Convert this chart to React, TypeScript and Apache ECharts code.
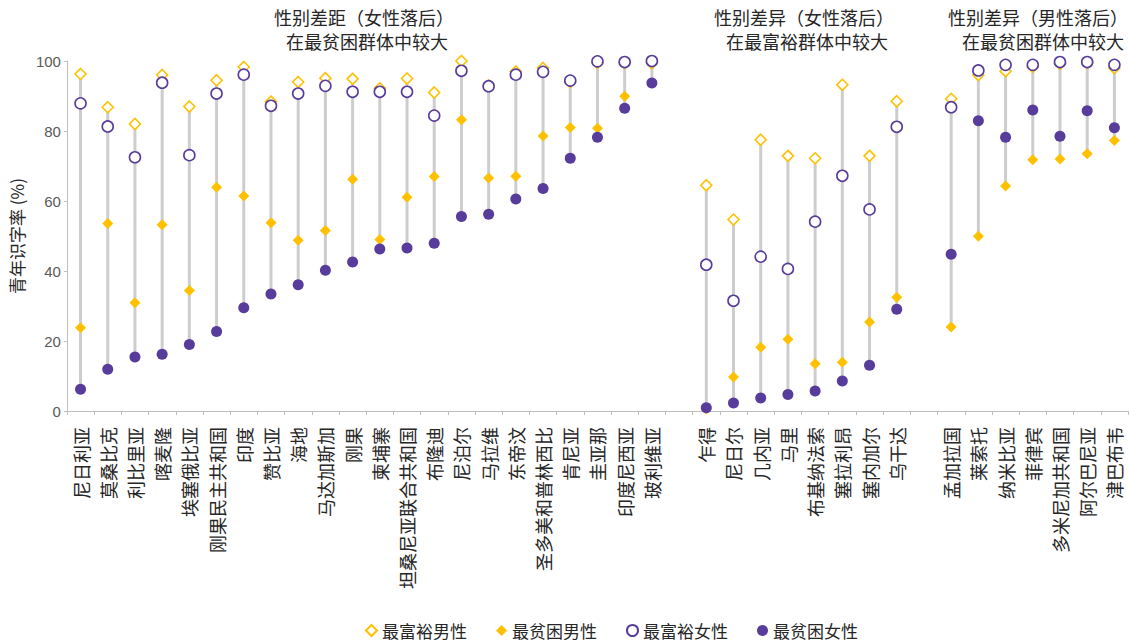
import React, { useEffect, useRef } from "react";
import * as echarts from "echarts";

// ---- Data ----
const group1 = ["尼日利亚", "莫桑比克", "利比里亚", "喀麦隆", "埃塞俄比亚", "刚果民主共和国", "印度", "赞比亚", "海地", "马达加斯加", "刚果", "柬埔寨", "坦桑尼亚联合共和国", "布隆迪", "尼泊尔", "马拉维", "东帝汶", "圣多美和普林西比", "肯尼亚", "圭亚那", "印度尼西亚", "玻利维亚"];
const group2 = ["乍得", "尼日尔", "几内亚", "马里", "布基纳法索", "塞拉利昂", "塞内加尔", "乌干达"];
const group3 = ["孟加拉国", "莱索托", "纳米比亚", "菲律宾", "多米尼加共和国", "阿尔巴尼亚", "津巴布韦"];

// 最富裕男性
const richMale1 = [96.3, 86.8, 82.0, 96.0, 87.0, 94.5, 98.3, 88.4, 94.0, 95.1, 94.9, 92.2, 95.0, 91.0, 100, 93.0, 97.0, 98.0, 94.0, 99.5, 99.5, 99.6];
const richMale2 = [64.5, 54.7, 77.5, 72.9, 72.2, 93.2, 72.9, 88.5];
const richMale3 = [89.2, 96.0, 97.1, 98.3, 99.2, 99.5, 98.0];
// 最贫困男性
const poorMale1 = [23.8, 53.6, 30.9, 53.2, 34.4, 63.9, 61.4, 53.8, 48.8, 51.6, 66.2, 49.0, 61.1, 67.0, 83.2, 66.6, 67.1, 78.6, 81.0, 80.8, 89.9, 99.1];
const poorMale2 = [0.6, 9.7, 18.2, 20.5, 13.5, 13.9, 25.4, 32.5];
const poorMale3 = [24.0, 49.9, 64.3, 71.8, 72.0, 73.5, 77.3];
// 最富裕女性
const richFemale1 = [87.9, 81.3, 72.5, 93.8, 73.1, 90.7, 96.1, 87.2, 90.7, 92.9, 91.2, 91.2, 91.2, 84.4, 97.2, 92.8, 96.1, 96.9, 94.4, 99.9, 99.7, 100];
const richFemale2 = [41.8, 31.5, 44.1, 40.6, 54.1, 67.2, 57.6, 81.2];
const richFemale3 = [86.8, 97.3, 98.9, 98.9, 99.7, 99.7, 98.9];
// 最贫困女性
const poorFemale1 = [6.2, 11.9, 15.4, 16.2, 19.0, 22.7, 29.5, 33.4, 36.1, 40.2, 42.6, 46.3, 46.6, 47.9, 55.6, 56.2, 60.6, 63.6, 72.2, 78.2, 86.5, 93.7];
const poorFemale2 = [0.9, 2.3, 3.7, 4.7, 5.7, 8.6, 13.1, 29.1];
const poorFemale3 = [44.8, 82.9, 78.2, 86.0, 78.5, 85.8, 80.9];

const yTicks = [0, 20, 40, 60, 80, 100];
const seriesNames = ["最富裕男性", "最贫困男性", "最富裕女性", "最贫困女性"];
const titleLine1 = ["性别差距（女性落后）", "性别差异（女性落后）", "性别差异（男性落后）"];
const titleLine2 = ["在最贫困群体中较大", "在最富裕群体中较大", "在最贫困群体中较大"];

function joinGroups<T>(a: T[], b: T[], c: T[], gap: T): T[] {
  return [...a, gap, ...b, gap, ...c];
}

const categories = joinGroups(group1, group2, group3, "");
const richMale = joinGroups<any>(richMale1, richMale2, richMale3, "-");
const poorMale = joinGroups<any>(poorMale1, poorMale2, poorMale3, "-");
const richFemale = joinGroups<any>(richFemale1, richFemale2, richFemale3, "-");
const poorFemale = joinGroups<any>(poorFemale1, poorFemale2, poorFemale3, "-");

const YELLOW = "#FFC000";
const PURPLE = "#583C9C";
const CJK = "'Noto Sans CJK SC', sans-serif";

export default function App() {
  const ref = useRef<HTMLDivElement>(null);
  useEffect(() => {
    if (!ref.current) return;
    const chart = echarts.init(ref.current, undefined, { renderer: "svg" });

    const ranges: number[][] = [];
    categories.forEach((c, i) => {
      const vals = [richMale[i], poorMale[i], richFemale[i], poorFemale[i]].filter((v) => typeof v === "number");
      if (vals.length) ranges.push([i, Math.min(...vals), Math.max(...vals)]);
    });

    const line1Centers = [364, 804, 1038];
    const line2Centers = [367, 807, 1043];
    const titleStyle = { fontFamily: CJK, fontSize: 18, fontWeight: "normal", color: "#262626" };
    const titles: any[] = [];
    line1Centers.forEach((cx, k) => {
      titles.push({ text: titleLine1[k], left: cx, top: 8, textAlign: "center", padding: 0, textStyle: titleStyle });
      titles.push({ text: titleLine2[k], left: line2Centers[k], top: 32, textAlign: "center", padding: 0, textStyle: titleStyle });
    });

    const option: any = {
      animation: false,
      backgroundColor: "#ffffff",
      title: titles,
      legend: {
        data: seriesNames,
        left: 365,
        top: 622,
        padding: 0,
        itemGap: 29,
        itemWidth: 11,
        itemHeight: 11,
        textStyle: { fontFamily: CJK, fontSize: 17, color: "#262626" },
      },
      grid: { left: 63, right: 2, top: 61, bottom: 231, containLabel: false },
      xAxis: {
        type: "category",
        data: categories,
        axisLine: { lineStyle: { color: "#bfbfbf", width: 1 } },
        axisTick: { show: true, length: 4, lineStyle: { color: "#bfbfbf" } },
        axisLabel: { interval: 0, rotate: 90, margin: 16, fontFamily: CJK, fontSize: 18, color: "#262626" },
        splitLine: { show: false },
      },
      yAxis: {
        type: "value",
        min: yTicks[0],
        max: yTicks[yTicks.length - 1],
        interval: 20,
        name: "青年识字率 (%)",
        nameLocation: "middle",
        nameGap: 32,
        nameTextStyle: { fontFamily: CJK, fontSize: 17, color: "#262626" },
        axisLine: { show: true, lineStyle: { color: "#bfbfbf" } },
        axisTick: { show: true, length: 3, lineStyle: { color: "#bfbfbf" } },
        axisLabel: { fontFamily: "'Liberation Sans', sans-serif", fontSize: 15, color: "#595959", margin: 6 },
        splitLine: { show: false },
      },
      series: [
        {
          type: "custom",
          name: "range",
          data: ranges,
          encode: { x: 0, y: [1, 2] },
          z: 1,
          silent: true,
          renderItem: (params: any, api: any) => {
            const x = api.value(0);
            const lo = api.coord([x, api.value(1)]);
            const hi = api.coord([x, api.value(2)]);
            return {
              type: "line",
              shape: { x1: lo[0], y1: lo[1], x2: hi[0], y2: hi[1] },
              style: { stroke: "#cdcdcd", lineWidth: 3 },
            };
          },
        },
        {
          type: "scatter",
          name: seriesNames[0],
          data: richMale,
          symbol: "diamond",
          symbolSize: 11,
          z: 2,
          itemStyle: { color: "#ffffff", borderColor: YELLOW, borderWidth: 1.6, opacity: 1 },
        },
        {
          type: "scatter",
          name: seriesNames[1],
          data: poorMale,
          symbol: "diamond",
          symbolSize: 11,
          z: 3,
          itemStyle: { color: YELLOW, opacity: 1 },
        },
        {
          type: "scatter",
          name: seriesNames[2],
          data: richFemale,
          symbol: "circle",
          symbolSize: 11,
          z: 4,
          itemStyle: { color: "#ffffff", borderColor: PURPLE, borderWidth: 1.6, opacity: 1 },
        },
        {
          type: "scatter",
          name: seriesNames[3],
          data: poorFemale,
          symbol: "circle",
          symbolSize: 11,
          z: 5,
          itemStyle: { color: PURPLE, opacity: 1 },
        },
      ],
    };
    chart.setOption(option);
    return () => chart.dispose();
  }, []);

  return (
    <div
      ref={ref}
      style={{ position: "absolute", left: 0, top: 0, width: 1130, height: 642, background: "#fff" }}
    />
  );
}
